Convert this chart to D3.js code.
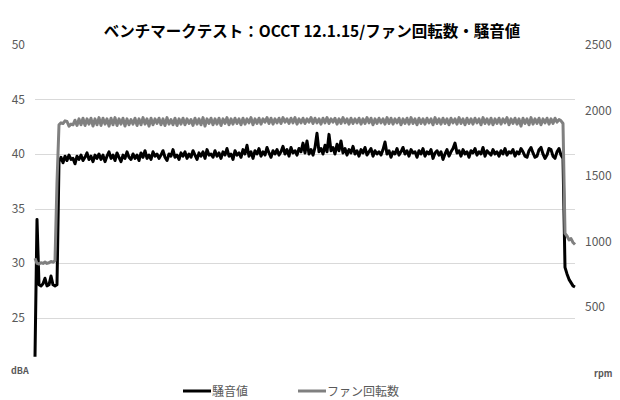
<!DOCTYPE html>
<html>
<head>
<meta charset="utf-8">
<script src="https://cdn.jsdelivr.net/npm/d3@7"></script>
<style>
body { margin: 0; background: #fff; }
text { font-family: "Noto Sans CJK JP", "Noto Sans", sans-serif; }
</style>
</head>
<body>
<svg id="svg"></svg>
<script>
var title = "ベンチマークテスト：OCCT 12.1.15/ファン回転数・騒音値";
var seriesNames = ["騒音値", "ファン回転数"];
var leftTicks = [25, 30, 35, 40, 45, 50];
var rightTicks = [500, 1000, 1500, 2000, 2500];
var leftUnit = "dBA";
var rightUnit = "rpm";

// noise (dBA), one sample per step
var noise = [
    21.4, 34.0, 28.0, 27.9, 28.1, 28.6, 27.9, 28.0, 28.8, 28.0, 27.9, 28.0, 39.3,
    39.7, 39.2, 39.8, 39.4, 39.9, 39.5, 39.6, 39.1, 39.8, 39.5,
    39.9, 39.4, 39.7, 40.1, 39.5, 39.8, 39.3, 39.9, 39.6, 40.0,
    39.5, 39.9, 39.3, 39.8, 40.2, 39.6, 39.9, 39.4, 40.1, 39.7,
    39.3, 39.9, 39.6, 40.2, 39.7, 39.5, 40.0, 39.6, 39.9, 39.4,
    40.1, 39.7, 40.3, 39.6, 39.9, 39.5, 40.2, 39.8, 40.0, 39.6,
    39.9, 40.3, 39.7, 39.4, 40.0, 39.8, 40.4, 39.7, 39.9, 39.5,
    40.1, 39.8, 40.2, 39.6, 40.0, 39.7, 40.3, 39.9, 39.5, 40.1,
    39.8, 40.2, 39.6, 40.4, 39.9, 40.0, 39.7, 40.3, 39.8, 40.1,
    39.6, 40.2, 39.9, 40.5, 39.8, 40.0, 39.5, 40.3, 39.9, 40.1,
    39.7, 40.4, 40.0, 40.8, 39.8, 40.2, 39.6, 40.3, 40.0, 40.5,
    39.8, 40.2, 39.9, 40.6, 40.1, 39.7, 40.3, 40.0, 40.4, 39.9,
    40.2, 40.7, 40.0, 40.4, 39.8, 40.6, 40.1, 40.3, 39.9, 40.5,
    40.2, 41.0, 40.1, 41.2, 40.0, 40.4, 39.9, 40.6, 41.9, 40.2,
    40.5, 40.0, 40.8, 40.2, 41.8, 40.3, 40.6, 40.0, 40.9, 40.3,
    41.2, 40.1, 40.5, 39.9, 40.4, 40.1, 40.7, 40.0, 40.3, 39.8,
    40.4, 40.1, 40.6, 39.9, 40.2, 40.5, 39.8, 40.3, 40.0, 40.2,
    39.9, 40.4, 41.1, 40.0, 40.3, 39.7, 40.2, 40.0, 40.5, 39.9,
    40.2, 40.6, 40.0, 40.3, 39.8, 40.4, 40.1, 40.2, 39.7, 40.3,
    40.0, 40.5, 39.8, 40.2, 40.0, 40.4, 39.6, 40.1, 40.3, 39.9,
    40.2, 39.5, 40.0, 40.4, 39.8, 40.2, 40.5, 41.0, 40.1, 40.3,
    39.8, 40.4, 40.0, 40.2, 39.7, 40.3, 40.1, 40.5, 39.9, 40.2,
    40.0, 40.6, 39.8, 40.3, 40.1, 39.9, 40.4, 40.0, 40.2, 39.8,
    40.3, 40.0, 40.5, 39.9, 40.2, 40.1, 40.4, 39.8, 40.2, 40.0,
    40.5, 40.2, 39.8, 39.7, 40.3, 40.6, 40.1, 39.7, 39.8, 40.4,
    40.6, 40.0, 39.6, 39.9, 40.5, 40.4, 39.8, 39.6, 40.2, 40.5,
    39.9, 39.6, 29.6, 29.0, 28.5, 28.2, 27.9, 27.8
];

// fan speed (rpm), same steps
var fan = [
    870, 830, 825, 835, 830, 840, 830, 835, 845, 840, 850, 1450, 1890,
    1905, 1900, 1920, 1915, 1880, 1895, 1890, 1925, 1885, 1935,
    1890, 1940, 1885, 1935, 1895, 1940, 1880, 1935, 1890, 1945,
    1885, 1940, 1895, 1935, 1880, 1940, 1890, 1945, 1885, 1935,
    1895, 1940, 1880, 1935, 1890, 1930, 1895, 1940, 1885, 1935,
    1890, 1945, 1895, 1935, 1880, 1940, 1890, 1935, 1900, 1940,
    1890, 1935, 1885, 1945, 1895, 1930, 1890, 1940, 1885, 1935,
    1895, 1940, 1890, 1935, 1900, 1930, 1885, 1940, 1895, 1935,
    1890, 1945, 1880, 1935, 1900, 1940, 1890, 1935, 1895, 1940,
    1885, 1935, 1900, 1945, 1890, 1935, 1895, 1940, 1900, 1935,
    1890, 1940, 1895, 1935, 1905, 1945, 1890, 1935, 1900, 1940,
    1895, 1935, 1910, 1945, 1900, 1940, 1895, 1935, 1905, 1940,
    1900, 1945, 1910, 1935, 1900, 1940, 1905, 1945, 1895, 1935,
    1905, 1940, 1900, 1935, 1910, 1945, 1900, 1940, 1905, 1935,
    1895, 1940, 1905, 1945, 1900, 1935, 1910, 1940, 1895, 1935,
    1900, 1945, 1905, 1935, 1895, 1940, 1900, 1935, 1905, 1940,
    1895, 1935, 1900, 1945, 1905, 1940, 1890, 1935, 1900, 1940,
    1905, 1935, 1895, 1945, 1900, 1940, 1895, 1935, 1905, 1940,
    1890, 1935, 1900, 1940, 1895, 1945, 1900, 1935, 1890, 1940,
    1900, 1935, 1895, 1940, 1905, 1935, 1890, 1945, 1900, 1935,
    1895, 1940, 1900, 1935, 1890, 1940, 1905, 1935, 1895, 1945,
    1900, 1935, 1890, 1940, 1900, 1935, 1895, 1940, 1905, 1935,
    1890, 1945, 1900, 1935, 1895, 1940, 1890, 1935, 1900, 1940,
    1895, 1935, 1905, 1945, 1890, 1935, 1900, 1940, 1895, 1935,
    1880, 1940, 1900, 1935, 1890, 1945, 1895, 1935, 1900, 1940,
    1890, 1935, 1905, 1940, 1895, 1935, 1900, 1940, 1910, 1930,
    1920, 1900, 1060, 1040, 1010, 1020, 990, 975
];

var width = 620, height = 400;
var plot = {x1: 35, x2: 575, y1: 45, y2: 372};

var svg = d3.select("#svg")
        .attr("width", width)
        .attr("height", height);

var x = d3.scaleLinear().domain([0, noise.length - 1]).range([plot.x1, plot.x2]);
var yLeft = d3.scaleLinear().domain([20, 50]).range([plot.y2, plot.y1]);
var yRight = d3.scaleLinear().domain([0, 2500]).range([plot.y2, plot.y1]);

// gridlines (not at the top value)
svg.append("g")
    .selectAll("line")
    .data(leftTicks.filter(function(t) { return t < 50; }))
    .enter()
    .append("line")
    .attr("x1", plot.x1)
    .attr("x2", plot.x2)
    .attr("y1", function(t) { return Math.round(yLeft(t)) + 0.5; })
    .attr("y2", function(t) { return Math.round(yLeft(t)) + 0.5; })
    .attr("stroke", "#d9d9d9")
    .attr("stroke-width", 1);

// axes, lines hidden, labels only
var leftAxis = svg.append("g")
    .attr("transform", "translate(" + (plot.x1 - 10) + ",0)")
    .call(d3.axisLeft(yLeft).tickValues(leftTicks).tickSize(0).tickPadding(0)
        .tickFormat(d3.format("d")));
var rightAxis = svg.append("g")
    .attr("transform", "translate(" + (plot.x2 + 10) + ",0)")
    .call(d3.axisRight(yRight).tickValues(rightTicks).tickSize(0).tickPadding(0)
        .tickFormat(d3.format("d")));

[leftAxis, rightAxis].forEach(function(ax) {
    ax.select(".domain").remove();
    ax.selectAll("text")
        .attr("font-family", "\"Noto Sans CJK JP\", sans-serif")
        .attr("font-size", 12)
        .attr("fill", "#595959");
});

svg.append("text")
    .attr("x", 11).attr("y", 374)
    .attr("font-size", 9).attr("font-weight", "bold")
    .attr("fill", "#595959")
    .text(leftUnit);
svg.append("text")
    .attr("x", 594).attr("y", 377)
    .attr("font-size", 9).attr("font-weight", "bold")
    .attr("fill", "#595959")
    .text(rightUnit);

// series
var noiseLine = d3.line()
        .x(function(d, i) { return x(i); })
        .y(function(d) { return yLeft(d); });
var fanLine = d3.line()
        .x(function(d, i) { return x(i); })
        .y(function(d) { return yRight(d); });

svg.append("path")
    .datum(noise)
    .attr("d", noiseLine)
    .attr("fill", "none")
    .attr("stroke", "#000000")
    .attr("stroke-width", 3)
    .attr("stroke-linejoin", "round");

svg.append("path")
    .datum(fan)
    .attr("d", fanLine)
    .attr("fill", "none")
    .attr("stroke", "#808080")
    .attr("stroke-width", 3)
    .attr("stroke-linejoin", "round");

// title
svg.append("text")
    .attr("x", 312).attr("y", 37)
    .attr("text-anchor", "middle")
    .attr("font-size", 15.5).attr("font-weight", "bold")
    .attr("fill", "#000")
    .text(title);

// legend
var legendColors = ["#000000", "#808080"];
var legendX = [183, 298];
var lg = svg.append("g")
        .selectAll("g")
        .data(seriesNames)
        .enter()
        .append("g")
        .attr("transform", function(d, i) { return "translate(" + legendX[i] + ",391)"; });
lg.append("line")
    .attr("x1", 0).attr("x2", 28)
    .attr("stroke", function(d, i) { return legendColors[i]; })
    .attr("stroke-width", 3);
lg.append("text")
    .attr("x", 29).attr("y", 4.5)
    .attr("font-size", 12)
    .attr("fill", "#595959")
    .text(function(d) { return d; });
</script>
</body>
</html>
